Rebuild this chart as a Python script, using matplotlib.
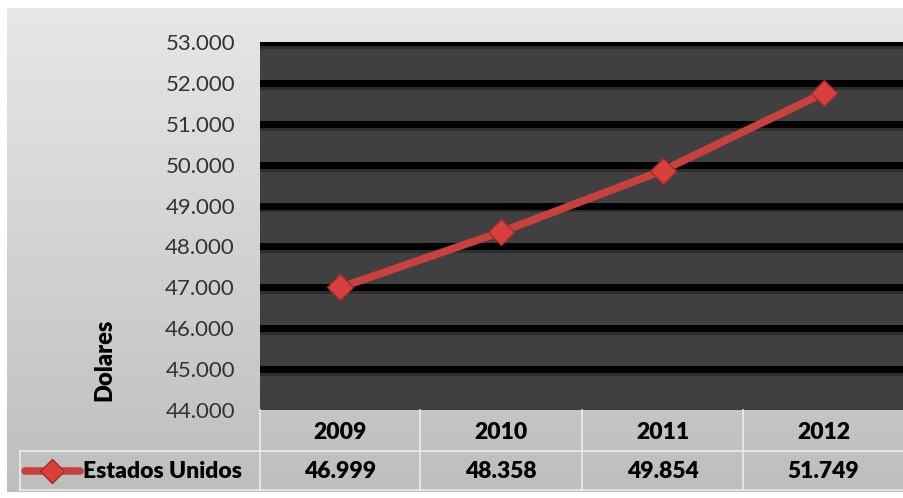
import numpy as np
import matplotlib.pyplot as plt
from matplotlib.lines import Line2D
from matplotlib.ticker import FuncFormatter

years = ["2009", "2010", "2011", "2012"]
usa = [46999, 48358, 49854, 51749]
series_name = "Estados Unidos"
y_ticks = list(range(44000, 54000, 1000))

W, H = 904, 498
fig = plt.figure(figsize=(W / 100, H / 100), dpi=100, facecolor="white")
plt.rcParams["font.family"] = ["Lato", "DejaVu Sans"]

def fx(px):
    return px / W

def fy(py):
    return 1 - py / H

# chart background: light grey gradient
bg = fig.add_axes([fx(7), fy(492), fx(904 - 7), (492 - 8) / H], zorder=0)
grad = np.linspace(0, 1, 256).reshape(-1, 1)
bg.imshow(grad, aspect="auto", cmap=plt.matplotlib.colors.LinearSegmentedColormap.from_list(
    "g", ["#e7e7e7", "#bebebe"]), extent=[0, 1, 0, 1], origin="upper")
bg.set_axis_off()

# plot area
ax = fig.add_axes([fx(260), fy(410), 1 - fx(260), (410 - 42) / H], zorder=2)
ax.set_facecolor("#404040")
x = np.arange(len(years))
for v in y_ticks[1:]:
    ax.axhline(v, color="black", lw=5, zorder=1)
    ax.axhline(v - 120, color="#2c2c2c", lw=2, zorder=0.9)
ax.plot(x, usa, color="#c9413e", lw=5.5, solid_capstyle="round", zorder=3,
        marker="D", markersize=13, markerfacecolor="#d9403c",
        markeredgecolor="#a32b28", markeredgewidth=1)
ax.set_xlim(-0.5, len(years) - 0.5)
ax.set_ylim(y_ticks[0], y_ticks[-1])
ax.set_yticks(y_ticks)
ax.yaxis.set_major_formatter(FuncFormatter(lambda v, p: f"{int(v):,}".replace(",", ".")))
ax.tick_params(axis="y", length=0, pad=18, labelsize=16, labelcolor="#333333")
ax.set_xticks([])
for s in ax.spines.values():
    s.set_visible(False)

fig.text(fx(104), fy(360), "Dolares", rotation=90, ha="center", va="center",
         fontsize=17, fontweight="heavy", color="black")

# data table below the plot
col_edges = [260, 420, 582, 743, 904]
line_kw = dict(color="#ececec", lw=1.2, transform=fig.transFigure, zorder=3)
fig.add_artist(Line2D([fx(260), 1], [fy(451), fy(451)], **line_kw))
fig.add_artist(Line2D([fx(20), fx(260)], [fy(451), fy(451)], **line_kw))
fig.add_artist(Line2D([fx(20), 1], [fy(490), fy(490)], **line_kw))
fig.add_artist(Line2D([fx(20), fx(20)], [fy(451), fy(490)], **line_kw))
for cx in col_edges[:-1]:
    fig.add_artist(Line2D([fx(cx), fx(cx)], [fy(410), fy(490)], **line_kw))

for i, (yr, v) in enumerate(zip(years, usa)):
    cx = (col_edges[i] + col_edges[i + 1]) / 2
    fig.text(fx(cx), fy(432), yr, ha="center", va="center", fontsize=16.5,
             fontweight="heavy", color="black")
    fig.text(fx(cx), fy(471), f"{v:,}".replace(",", "."), ha="center", va="center",
             fontsize=16.5, fontweight="heavy", color="black")

# legend key inside the table
fig.add_artist(Line2D([fx(25), fx(80)], [fy(471), fy(471)], color="#c9413e", lw=5.5,
                      solid_capstyle="round", transform=fig.transFigure, zorder=4))
fig.add_artist(Line2D([fx(52)], [fy(471)], marker="D", markersize=12,
                      markerfacecolor="#d9403c", markeredgecolor="#a32b28",
                      markeredgewidth=1, transform=fig.transFigure, zorder=5))
fig.text(fx(83), fy(471), series_name, ha="left", va="center", fontsize=16.5,
         fontweight="heavy", color="black")

fig.savefig("out.png", dpi=100, facecolor="white")
